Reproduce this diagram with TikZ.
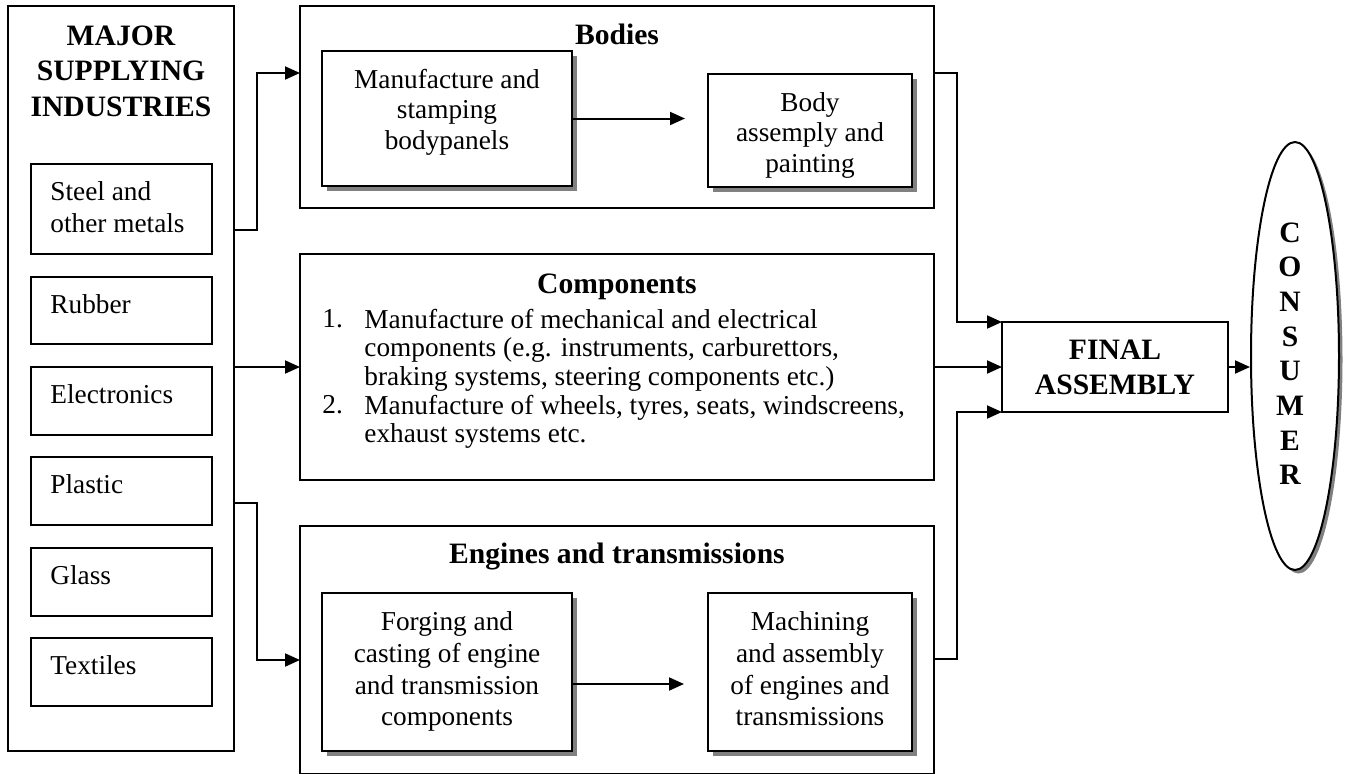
\documentclass[tikz,border=0pt]{standalone}
\usepackage{fontspec}
\setmainfont{Liberation Serif}
\usetikzlibrary{arrows.meta, fit, shapes.geometric, shadows}

\tikzset{
  frame/.style={draw, line width=1pt, inner sep=0pt, outer sep=0pt},
  card/.style={frame, fill=white,
    drop shadow={shadow xshift=2.5pt, shadow yshift=-2.5pt, fill=black!50, opacity=1}},
  wire/.style={line width=1pt},
  arr/.style={line width=1pt, -{Triangle[length=7.5pt, width=6.5pt]}},
  txt/.style={inner sep=0pt, font=\fontsize{13.65pt}{15.25pt}\selectfont},
  itemtxt/.style={inner sep=0pt, align=left, font=\fontsize{13.65pt}{16pt}\selectfont},
  listtxt/.style={inner sep=0pt, align=left, font=\fontsize{13.65pt}{14.35pt}\selectfont},
  proctxt/.style={inner sep=0pt, align=center, font=\fontsize{13.65pt}{15.85pt}\selectfont},
  head/.style={inner sep=0pt, font=\bfseries\fontsize{14.8pt}{17.75pt}\selectfont},
}

\begin{document}
\begin{tikzpicture}[x=0.5pt, y=-0.5pt]
\useasboundingbox (0,0) rectangle (1346,773);
\clip (0,0) rectangle (1346,773);

% ---- supplying industries column ----
\node[frame, fit={(8,6) (234,751)}] (supply) {};
\node[head, align=center, anchor=north] (supplyhead) at (121,25) {MAJOR\\SUPPLYING\\INDUSTRIES};

\node[frame, fit={(31,164) (212,254)}] (steel) {};
\node[itemtxt, anchor=north west] (tsteel) at (50,181.5) {Steel and\\other metals};
\node[frame, fit={(31,277) (212,344)}] (rubber) {};
\node[itemtxt, anchor=north west] (trubber) at (50,294.5) {Rubber};
\node[frame, fit={(31,367) (212,435)}] (electronics) {};
\node[itemtxt, anchor=north west] (telectronics) at (50,384.5) {Electronics};
\node[frame, fit={(31,457) (212,525)}] (plastic) {};
\node[itemtxt, anchor=north west] (tplastic) at (50,474.5) {Plastic};
\node[frame, fit={(31,548) (212,616)}] (glass) {};
\node[itemtxt, anchor=north west] (tglass) at (50,565.5) {Glass};
\node[frame, fit={(31,638) (212,706)}] (textiles) {};
\node[itemtxt, anchor=north west] (ttextiles) at (50,655.5) {Textiles};

% ---- bodies ----
\node[frame, fit={(300,6) (934,208)}] (bodies) {};
\node[head, anchor=north] (tbodies) at (617,24) {Bodies};
\node[card, fit={(322,51) (572,186)}] (stamp) {};
\node[txt, align=center, anchor=north] (tstamp) at (447,68.5) {Manufacture and\\stamping\\bodypanels};
\node[card, fit={(708,74) (912,187)}] (paint) {};
\node[txt, align=center, anchor=north] (tpaint) at (810,92) {Body\\assemply and\\painting};
\coordinate (stampend) at (685,118);
\draw[arr] (stamp.east) -- (stamp.east -| stampend);

% ---- components ----
\node[frame, fit={(300,254) (934,480)}] (comps) {};
\node[head, anchor=north] (tcomps) at (617,273) {Components};
\node[txt, anchor=base west] (n1) at (322,327) {1.};
\node[listtxt, anchor=north west] (item1) at (364,308.4)
  {Manufacture of mechanical and electrical\\components (e.g. instruments, carburettors,\\braking systems, steering components etc.)};
\node[txt, anchor=base west] (n2) at (322,413) {2.};
\node[listtxt, anchor=north west] (item2) at (364,394.4)
  {Manufacture of wheels, tyres, seats, windscreens,\\exhaust systems etc.};

% ---- engines and transmissions ----
\node[frame, fit={(300,526) (934,773.5)}] (engines) {};
\node[head, anchor=north] (tengines) at (617,543) {Engines and transmissions};
\node[card, fit={(322,593) (572,751)}] (forge) {};
\node[proctxt, anchor=north] (tforge) at (447,611.4) {Forging and\\casting of engine\\and transmission\\components};
\node[card, fit={(708,593) (912,751)}] (machine) {};
\node[proctxt, anchor=north] (tmachine) at (810,611.4) {Machining\\and assembly\\of engines and\\transmissions};
\coordinate (forgeend) at (684,684);
\draw[arr] (forge.east |- forgeend) -- (forgeend);

% ---- final assembly and consumer ----
\node[frame, fit={(1002,322) (1228,412)}] (final) {};
\node[head, align=center, anchor=north, font=\bfseries\fontsize{14.8pt}{17.25pt}\selectfont]
  (tfinal) at (1115,340) {FINAL\\ASSEMBLY};

\node[ellipse, draw, line width=1pt, fill=white, inner sep=0pt,
  minimum width=44pt, minimum height=214pt,
  drop shadow={shadow xshift=1.75pt, shadow yshift=-1.75pt, fill=black!50, opacity=1}]
  (consumer) at (1295,356) {};
\node[head, align=center, anchor=north, font=\bfseries\fontsize{14.8pt}{17.35pt}\selectfont]
  (tconsumer) at (1290,222) {C\\O\\N\\S\\U\\M\\E\\R};

% ---- connectors ----
\draw[arr] (supply.east |- 0,230) -- (257,230) |- (bodies.west |- 0,73);
\draw[arr] (supply.east |- 0,367) -- (comps.west |- 0,367);
\draw[arr] (supply.east |- 0,503) -- (257,503) |- (engines.west |- 0,660);
\draw[arr] (bodies.east |- 0,73) -- (957,73) |- (final.north west);
\draw[arr] (comps.east |- 0,367) -- (final.west |- 0,367);
\draw[arr] (engines.east |- 0,659) -- (957,659) |- (final.south west);
\draw[arr] (final.east) -- (final.east -| consumer.west);
\end{tikzpicture}
\end{document}
